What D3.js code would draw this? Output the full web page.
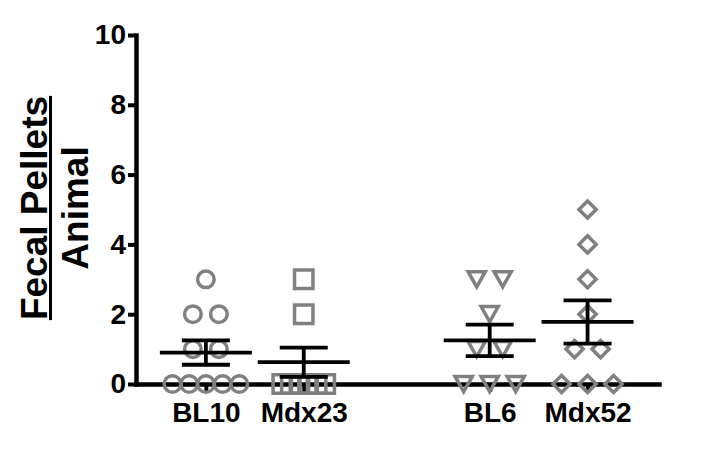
<!DOCTYPE html>
<html lang="en">
<head>
<meta charset="UTF-8">
<title>Fecal pellets per animal</title>
<script src="https://d3js.org/d3.v7.min.js"></script>
<style>
  body { margin: 0; background: #fff; }
  text { font-family: "Liberation Sans", Arial, sans-serif; font-weight: bold; fill: #000; }
</style>
</head>
<body>
<div id="chart"></div>
<script>
// data (pellets per animal)
const groups = ['BL10', 'Mdx23', 'BL6', 'Mdx52'];
const bl10  = [0, 0, 0, 0, 0, 1, 1, 2, 2, 3];
const mdx23 = [0, 0, 0, 0, 0, 0, 2, 3];
const bl6   = [0, 0, 0, 1, 1, 2, 3, 3];
const mdx52 = [0, 0, 0, 1, 1, 2, 3, 4, 5];
const yTicks = [0, 2, 4, 6, 8, 10];

const values = [bl10, mdx23, bl6, mdx52];
const shapes = ['circle', 'square', 'triangle', 'diamond'];
const crowdStep = [16.7, 8.6, 26, 26];   // horizontal spacing of crowded rows

const W = 703, H = 450;
const grey = '#808080';

const svg = d3.select('#chart').append('svg')
    .attr('width', W)
    .attr('height', H);

// second pair of columns sits a bit further right
const slot = i => i + (i >= 2 ? 0.9 : 0);

const x = d3.scaleLinear().domain([-0.714, 4.63]).range([136, 659]);
const y = d3.scaleLinear().domain([0, 10]).range([384, 35]);

// axes
const yAxis = svg.append('g')
    .attr('transform', `translate(${x.range()[0]},0)`)
    .call(d3.axisLeft(y).tickValues(yTicks).tickSize(8).tickSizeOuter(0).tickPadding(2));

const xAxis = svg.append('g')
    .attr('transform', `translate(0,${y(0)})`)
    .call(d3.axisBottom(x)
        .tickValues(groups.map((g, i) => slot(i)))
        .tickFormat((d, i) => groups[i])
        .tickSize(8).tickSizeOuter(0).tickPadding(10));

[yAxis, xAxis].forEach(a => {
    a.select('.domain').attr('stroke', '#000').attr('stroke-width', 4.5).attr('stroke-linecap', 'square');
    a.selectAll('.tick line').attr('stroke', '#000').attr('stroke-width', 4);
    a.selectAll('.tick text').style('font-size', '28px').attr('fill', '#000');
});

// axis title, written like a fraction
const title = svg.append('g').attr('transform', `translate(47,208) rotate(-90)`);
const numer = title.append('text')
    .attr('text-anchor', 'middle')
    .style('font-size', '37px')
    .text('Fecal Pellets');
const len = numer.node().getComputedTextLength();
title.append('line')
    .attr('x1', -len / 2).attr('x2', len / 2)
    .attr('y1', 3.5).attr('y2', 3.5)
    .attr('stroke', '#000').attr('stroke-width', 3);
title.append('text')
    .attr('text-anchor', 'middle')
    .attr('y', 41)
    .style('font-size', '37px')
    .text('Animal');

// marker outlines
const markerPath = {
    circle: d3.symbol(d3.symbolCircle, Math.PI * 8.3 * 8.3)(),
    square: 'M-9.2,-9.2H9.2V9.2H-9.2Z',
    triangle: 'M-8.6,-7.6H8.6L0,7.6Z',
    diamond: 'M0,-8.6L8.6,0L0,8.6L-8.6,0Z'
};

// scatter points, spread sideways when values repeat
const points = [];
values.forEach((vals, gi) => {
    const counts = d3.rollup(vals, v => v.length, d => d);
    counts.forEach((n, v) => {
        const step = n <= 3 ? 26 : crowdStep[gi];
        for (let k = 0; k < n; k++) {
            points.push({ gi, v, dx: (k - (n - 1) / 2) * step });
        }
    });
});

svg.append('g')
    .selectAll('path')
    .data(points)
    .join('path')
    .attr('transform', d => `translate(${x(slot(d.gi)) + d.dx},${y(d.v)})`)
    .attr('d', d => markerPath[shapes[d.gi]])
    .attr('fill', 'none')
    .attr('stroke', grey)
    .attr('stroke-width', 3.5)
    .attr('stroke-linejoin', 'miter');

// mean +/- SEM
const stats = values.map((vals, gi) => {
    const m = d3.mean(vals);
    const sem = d3.deviation(vals) / Math.sqrt(vals.length);
    return { gi, m, lo: m - sem, hi: m + sem };
});

const bars = svg.append('g')
    .attr('stroke', '#000')
    .attr('stroke-width', 3.8)
    .selectAll('g')
    .data(stats)
    .join('g')
    .attr('transform', d => `translate(${x(slot(d.gi))},0)`);

bars.append('line')
    .attr('x1', -46).attr('x2', 46)
    .attr('y1', d => y(d.m)).attr('y2', d => y(d.m));
bars.append('line')
    .attr('x1', 0).attr('x2', 0)
    .attr('y1', d => y(d.lo)).attr('y2', d => y(d.hi));
bars.selectAll('.cap')
    .data(d => [d.lo, d.hi])
    .join('line')
    .attr('class', 'cap')
    .attr('x1', -24).attr('x2', 24)
    .attr('y1', d => y(d)).attr('y2', d => y(d));
</script>
</body>
</html>
